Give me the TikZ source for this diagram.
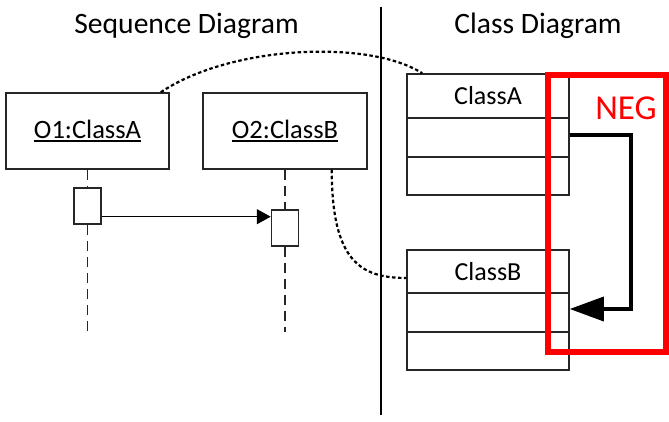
\documentclass[tikz,border=0pt]{standalone}
\usepackage{fontspec}
\setmainfont{Carlito}
\usetikzlibrary{arrows.meta}
\newcommand\myul[1]{\setbox0\hbox{#1}\rlap{\rule[-2.8pt]{\wd0}{1.4pt}}\box0}
\begin{document}
\begin{tikzpicture}[x=1pt,y=-1pt,
  box/.style={draw=black!85, line width=1.5pt, inner sep=0pt, rectangle, minimum width=#1},
  box/.default=162pt,
  life/.style={draw=black!85, line width=1.4pt, dash pattern=on 10pt off 6pt},
  dots/.style={draw=black, line width=2.2pt, dash pattern=on 3.5pt off 2.5pt},
  ttl/.style={font=\fontsize{29.6}{32}\selectfont, inner sep=0pt, anchor=base},
  objlbl/.style={font=\fontsize{26.5}{28}\selectfont},
  clslbl/.style={font=\fontsize{26}{28}\selectfont}]
\useasboundingbox (0,0) rectangle (669,422);
\fill[white] (0,0) rectangle (669,422);

% titles and divider
\node[ttl] (t1) at (186.5,33.5) {Sequence Diagram};
\node[ttl] (t2) at (538,33.5) {Class Diagram};
\coordinate (dtop) at (381,7);
\coordinate (dbot) at (381,415);
\draw[line width=2pt] (dtop) -- (dbot);

% sequence diagram
\node[box=163pt, minimum height=76pt, objlbl] (o1) at (87.5,131) {\myul{O1:ClassA}};
\node[box=164pt, minimum height=76pt, objlbl] (o2) at (285,131) {\myul{O2:ClassB}};
\node[box=27pt, minimum height=36pt] (a1) at (87.5,206) {};
\node[box=27pt, minimum height=36pt] (a2) at (285,228) {};
\coordinate (e1) at (87.5,332);
\coordinate (e2) at (285,332);
\draw[life] (o1.south) -- (a1.north);
\draw[life] (a1.south) -- (e1);
\draw[life] (o2.south) -- (a2.north);
\draw[life] (a2.south) -- (e2);
\draw[line width=1.4pt, -{Triangle[length=14pt,width=15pt]}]
  ([yshift=-10.7pt]a1.east) -- ([yshift=11.3pt]a2.west);

% class diagram
\node[box, minimum height=44pt, clslbl] (cA) at (488,96) {ClassA};
\node[box, minimum height=39pt] (cA2) at (488,137.5) {};
\node[box, minimum height=38pt] (cA3) at (488,176) {};
\node[box, minimum height=43pt, clslbl] (cB) at (488,271.5) {ClassB};
\node[box, minimum height=39pt] (cB2) at (488,312.5) {};
\node[box, minimum height=38pt] (cB3) at (488,351) {};

% trace links
\draw[dots] ([xshift=-9pt]o1.north east) .. controls +(70,-47) and +(-53,-34) .. ([xshift=16pt]cA.north west);
\draw[dots] ([xshift=-36pt]o2.south east) .. controls +(0,91) and +(-46,0) .. ([yshift=-6.5pt]cB.west);

% association arrow
\draw[line width=3.5pt, line join=miter, -{Triangle[length=34pt,width=24pt]}]
  ([yshift=2.5pt]cA2.east) -- ++(61,0) |- ([yshift=3.5pt]cB2.east);

% NEG frame
\node[draw=red, line width=6pt, minimum width=118pt, minimum height=277pt, inner sep=0pt] (neg) at (607,213.5) {};
\node[text=red, font=\fontsize{35}{36}\selectfont, inner sep=0pt] (negl) at (626,108.3) {NEG};
\end{tikzpicture}
\end{document}
